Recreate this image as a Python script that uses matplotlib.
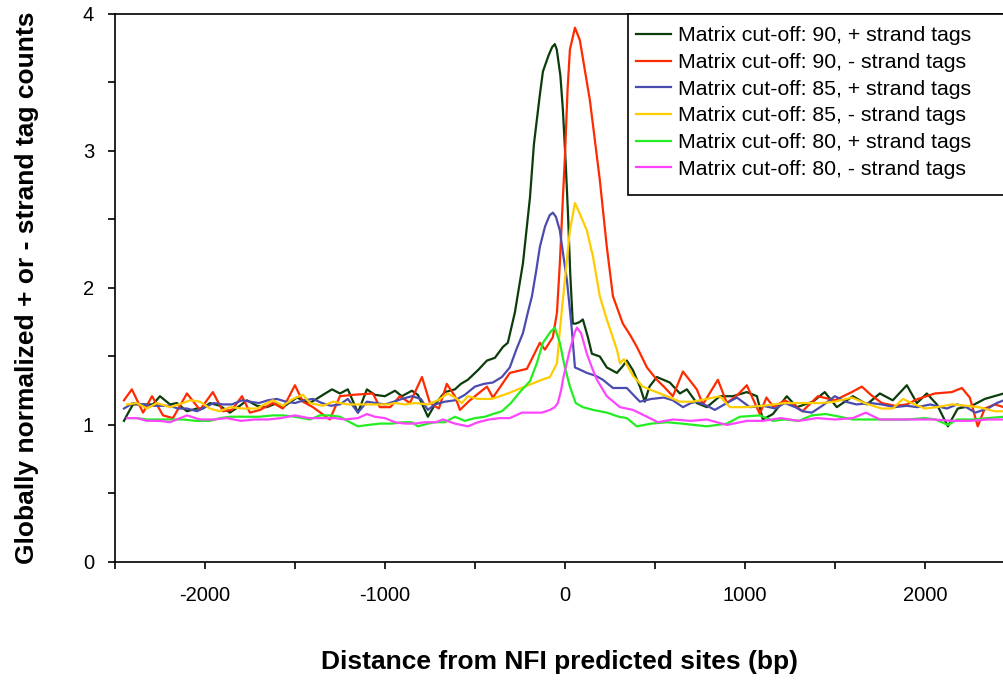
import matplotlib
matplotlib.use("Agg")
import matplotlib.pyplot as plt
from matplotlib.ticker import MultipleLocator
from matplotlib.patches import Rectangle

plt.rcParams["font.family"] = ["Liberation Sans", "DejaVu Sans"]
plt.rcParams["axes.unicode_minus"] = False

# cut-off 90, + strand
x_90p = [-2450, -2430, -2400, -2344, -2289, -2250, -2194, -2156, -2100, -2044, -2011, -1972, -1917, -1861,
         -1806, -1767, -1711, -1656, -1600, -1567, -1489, -1417, -1344, -1294, -1250, -1206, -1150, -1100,
         -1056, -1000, -944, -906, -850, -817, -761, -722, -667, -611, -578, -539, -483, -433, -389, -344,
         -317, -278, -233, -194, -172, -140, -122, -90, -70, -56, -45, -25, -11, 5, 17, 30, 44, 60, 80, 100,
         128, 150, 194, 233, 289, 322, 344, 378, 417, 444, 470, 511, 583, 639, 678, 733, 789, 861, 933,
         1011, 1067, 1100, 1156, 1233, 1289, 1378, 1444, 1511, 1600, 1678, 1750, 1822, 1900, 1956, 2011,
         2067, 2128, 2183, 2261, 2333, 2439]
y_90p = [1.03, 1.08, 1.15, 1.15, 1.15, 1.21, 1.15, 1.16, 1.10, 1.12, 1.12, 1.16, 1.14, 1.09, 1.14, 1.18,
         1.14, 1.13, 1.16, 1.13, 1.20, 1.16, 1.22, 1.26, 1.23, 1.26, 1.09, 1.26, 1.22, 1.21, 1.25, 1.21,
         1.25, 1.22, 1.06, 1.15, 1.24, 1.26, 1.30, 1.33, 1.40, 1.47, 1.49, 1.57, 1.60, 1.82, 2.18, 2.66,
         3.05, 3.40, 3.58, 3.70, 3.76, 3.78, 3.74, 3.55, 3.30, 2.90, 2.55, 2.10, 1.74, 1.74, 1.75, 1.77,
         1.64, 1.52, 1.50, 1.42, 1.38, 1.43, 1.47, 1.40, 1.28, 1.17, 1.28, 1.35, 1.31, 1.23, 1.26, 1.16,
         1.13, 1.21, 1.21, 1.24, 1.21, 1.04, 1.08, 1.21, 1.13, 1.17, 1.24, 1.13, 1.21, 1.15, 1.23, 1.18,
         1.29, 1.16, 1.23, 1.15, 0.99, 1.12, 1.14, 1.19, 1.23]

# cut-off 90, - strand
x_90m = [-2450, -2406, -2344, -2294, -2233, -2178, -2100, -2028, -1956, -1900, -1850, -1794, -1750, -1694,
         -1622, -1567, -1500, -1456, -1400, -1306, -1250, -1178, -1067, -1028, -970, -917, -861, -794, -750,
         -700, -656, -611, -583, -528, -433, -400, -306, -211, -139, -111, -67, -44, -28, -11, 0, 15, 28, 56,
         83, 139, 194, 233, 267, 322, 361, 400, 456, 511, 550, 600, 656, 733, 767, 850, 900, 960, 1011, 1083,
         1120, 1160, 1222, 1278, 1320, 1406, 1500, 1594, 1650, 1700, 1761, 1833, 1900, 1961, 2056, 2150,
         2206, 2250, 2294, 2333, 2389, 2439]
y_90m = [1.18, 1.26, 1.09, 1.21, 1.07, 1.05, 1.23, 1.11, 1.24, 1.10, 1.11, 1.21, 1.09, 1.11, 1.16, 1.12,
         1.29, 1.17, 1.13, 1.04, 1.21, 1.22, 1.23, 1.13, 1.13, 1.21, 1.16, 1.35, 1.16, 1.12, 1.30, 1.21,
         1.11, 1.18, 1.28, 1.20, 1.38, 1.41, 1.60, 1.55, 1.64, 1.82, 2.18, 2.66, 2.95, 3.45, 3.74, 3.90,
         3.81, 3.37, 2.79, 2.30, 1.94, 1.74, 1.66, 1.57, 1.42, 1.33, 1.28, 1.21, 1.39, 1.26, 1.15, 1.33,
         1.16, 1.22, 1.29, 1.08, 1.20, 1.13, 1.18, 1.14, 1.10, 1.21, 1.18, 1.24, 1.28, 1.22, 1.16, 1.14,
         1.15, 1.19, 1.23, 1.24, 1.27, 1.20, 0.99, 1.12, 1.15, 1.13]

# cut-off 85, + strand
x_85p = [-2450, -2400, -2350, -2300, -2250, -2194, -2150, -2100, -2044, -2000, -1950, -1900, -1850, -1794,
         -1750, -1700, -1650, -1600, -1550, -1500, -1450, -1400, -1350, -1300, -1250, -1206, -1150, -1100,
         -1050, -1000, -950, -906, -850, -800, -761, -722, -667, -611, -556, -500, -450, -400, -350, -306,
         -270, -233, -206, -183, -160, -139, -110, -85, -67, -50, -28, -10, 11, 25, 39, 56, 90, 122, 170,
         211, 267, 344, 380, 417, 480, 550, 600, 656, 700, 733, 790, 833, 900, 956, 1028, 1100, 1170, 1222,
         1280, 1322, 1372, 1430, 1500, 1560, 1620, 1700, 1760, 1833, 1900, 1960, 2030, 2122, 2180, 2230,
         2280, 2350, 2400, 2439]
y_85p = [1.12, 1.16, 1.15, 1.14, 1.14, 1.14, 1.12, 1.12, 1.10, 1.13, 1.16, 1.15, 1.15, 1.18, 1.17, 1.16,
         1.18, 1.19, 1.17, 1.16, 1.18, 1.19, 1.16, 1.14, 1.15, 1.19, 1.09, 1.17, 1.16, 1.15, 1.17, 1.19,
         1.21, 1.19, 1.11, 1.15, 1.17, 1.18, 1.22, 1.28, 1.30, 1.31, 1.35, 1.42, 1.55, 1.67, 1.82, 1.94,
         2.12, 2.30, 2.45, 2.53, 2.55, 2.52, 2.42, 2.25, 2.06, 1.88, 1.69, 1.42, 1.40, 1.38, 1.36, 1.33,
         1.27, 1.27, 1.22, 1.17, 1.19, 1.20, 1.18, 1.13, 1.16, 1.17, 1.14, 1.11, 1.16, 1.20, 1.13, 1.14,
         1.12, 1.16, 1.13, 1.10, 1.09, 1.14, 1.21, 1.17, 1.15, 1.16, 1.15, 1.13, 1.14, 1.13, 1.15, 1.12,
         1.15, 1.13, 1.09, 1.12, 1.16, 1.18]

# cut-off 85, - strand
x_85m = [-2433, -2378, -2322, -2267, -2194, -2122, -2083, -2028, -1972, -1917, -1861, -1789, -1711, -1656,
         -1622, -1567, -1511, -1456, -1417, -1344, -1289, -1206, -1128, -1056, -983, -944, -889, -833, -761,
         -706, -650, -611, -572, -539, -483, -406, -317, -222, -128, -83, -44, -28, 0, 28, 56, 80, 122, 156,
         194, 233, 289, 306, 328, 378, 433, 489, 567, 639, 711, 789, 861, 917, 1000, 1100, 1222, 1322, 1422,
         1500, 1594, 1667, 1711, 1761, 1822, 1878, 1944, 2000, 2067, 2150, 2233, 2300, 2389, 2439]
y_85m = [1.15, 1.16, 1.12, 1.16, 1.13, 1.16, 1.18, 1.17, 1.12, 1.10, 1.13, 1.12, 1.12, 1.16, 1.18, 1.14,
         1.19, 1.22, 1.16, 1.14, 1.17, 1.15, 1.15, 1.15, 1.15, 1.16, 1.15, 1.16, 1.15, 1.18, 1.23, 1.20,
         1.16, 1.21, 1.19, 1.19, 1.23, 1.28, 1.33, 1.35, 1.45, 1.69, 2.06, 2.42, 2.62, 2.55, 2.42, 2.23,
         1.94, 1.77, 1.55, 1.45, 1.48, 1.36, 1.28, 1.25, 1.21, 1.17, 1.17, 1.19, 1.21, 1.13, 1.13, 1.14,
         1.16, 1.16, 1.16, 1.17, 1.20, 1.16, 1.14, 1.12, 1.12, 1.19, 1.15, 1.12, 1.13, 1.15, 1.14, 1.13,
         1.10, 1.10]

# cut-off 80, + strand
x_80p = [-2433, -2378, -2322, -2250, -2194, -2122, -2050, -1972, -1917, -1861, -1789, -1700, -1622, -1567,
         -1500, -1417, -1361, -1306, -1250, -1194, -1150, -1094, -1028, -961, -900, -850, -817, -761, -722,
         -667, -611, -556, -500, -444, -400, -350, -300, -250, -194, -156, -122, -80, -56, -28, 0, 28, 60,
         100, 156, 233, 300, 344, 400, 480, 567, 650, 789, 900, 972, 1083, 1156, 1222, 1300, 1372, 1450,
         1528, 1600, 1700, 1800, 1900, 2000, 2060, 2128, 2180, 2260, 2350, 2439]
y_80p = [1.05, 1.05, 1.04, 1.04, 1.04, 1.04, 1.03, 1.03, 1.05, 1.06, 1.06, 1.06, 1.07, 1.07, 1.06, 1.04,
         1.07, 1.07, 1.06, 1.02, 0.99, 1.00, 1.01, 1.01, 1.02, 1.02, 0.99, 1.01, 1.02, 1.02, 1.06, 1.03,
         1.05, 1.06, 1.08, 1.10, 1.16, 1.24, 1.32, 1.45, 1.60, 1.68, 1.71, 1.60, 1.42, 1.28, 1.16, 1.13,
         1.11, 1.09, 1.06, 1.05, 0.99, 1.01, 1.02, 1.01, 0.99, 1.01, 1.06, 1.07, 1.03, 1.04, 1.03, 1.07,
         1.08, 1.06, 1.04, 1.04, 1.04, 1.04, 1.05, 1.04, 1.00, 1.04, 1.04, 1.05, 1.06]

# cut-off 80, - strand
x_80m = [-2433, -2378, -2322, -2250, -2194, -2100, -2028, -1950, -1878, -1800, -1722, -1650, -1578, -1500,
         -1422, -1344, -1278, -1222, -1150, -1100, -1056, -1000, -944, -889, -833, -778, -717, -678, -611,
         -539, -483, -422, -361, -306, -239, -178, -128, -83, -56, -39, -20, -11, 10, 28, 56, 67, 90, 122,
         150, 178, 233, 306, 378, 456, 517, 600, 700, 789, 900, 1011, 1100, 1200, 1300, 1400, 1500, 1600,
         1672, 1750, 1850, 1950, 2050, 2150, 2250, 2350, 2439]
y_80m = [1.05, 1.05, 1.03, 1.03, 1.02, 1.07, 1.04, 1.04, 1.05, 1.03, 1.04, 1.04, 1.05, 1.07, 1.05, 1.05,
         1.05, 1.04, 1.05, 1.08, 1.06, 1.05, 1.02, 1.01, 1.01, 1.02, 1.02, 1.04, 1.01, 0.99, 1.02, 1.04,
         1.05, 1.05, 1.09, 1.09, 1.09, 1.11, 1.13, 1.16, 1.26, 1.33, 1.45, 1.55, 1.68, 1.71, 1.67, 1.52,
         1.42, 1.33, 1.21, 1.13, 1.11, 1.06, 1.02, 1.04, 1.03, 1.04, 1.00, 1.03, 1.03, 1.05, 1.03, 1.05,
         1.04, 1.05, 1.09, 1.04, 1.04, 1.04, 1.04, 1.03, 1.03, 1.04, 1.04]

labels = ["Matrix cut-off: 90, + strand tags", "Matrix cut-off: 90, - strand tags",
          "Matrix cut-off: 85, + strand tags", "Matrix cut-off: 85, - strand tags",
          "Matrix cut-off: 80, + strand tags", "Matrix cut-off: 80, - strand tags"]
colors = ["#0b3d0b", "#ff2a00", "#4b4bb0", "#ffcc00", "#22ee22", "#ff44ff"]
series = [(x_90p, y_90p), (x_90m, y_90m), (x_85p, y_85p), (x_85m, y_85m), (x_80p, y_80p), (x_80m, y_80m)]

fig = plt.figure(figsize=(10.04, 6.82), dpi=100)
ax = fig.add_axes([0.1145, 0.176, 0.8855, 0.8035])

for (xs, ys), c, lab in zip(series, colors, labels):
    ax.plot(xs, ys, color=c, lw=1.6, label=lab)

ax.set_xlim(-2500, 2440)
ax.set_ylim(0, 4)
ax.xaxis.set_major_locator(MultipleLocator(1000))
ax.xaxis.set_minor_locator(MultipleLocator(500))
ax.yaxis.set_major_locator(MultipleLocator(1))
ax.yaxis.set_minor_locator(MultipleLocator(0.5))
ax.tick_params(which="both", direction="out", length=5, width=1.2, labelsize=14.5)
ax.tick_params(axis="x", pad=12)
ax.tick_params(axis="y", pad=10)
ax.spines["right"].set_visible(False)
for s in ["left", "bottom", "top"]:
    ax.spines[s].set_linewidth(1.2)

ax.set_xlabel("Distance from NFI predicted sites (bp)", fontsize=19, fontweight="bold")
ax.xaxis.set_label_coords(0.5, -0.1825)
ax.xaxis.label.set_va("center")
ax.set_ylabel("Globally normalized + or - strand tag counts", fontsize=19, fontweight="bold")
ax.yaxis.set_label_coords(-0.099, 0.5)
ax.yaxis.label.set_va("center")

# legend box runs off the right edge of the picture
ax.add_patch(Rectangle((0.577, 0.6697), 0.5, 0.3303, transform=ax.transAxes, fill=True,
                       facecolor="white", edgecolor="black", lw=1.2, clip_on=False, zorder=4))
leg = ax.legend(loc="upper left", bbox_to_anchor=(0.581, 0.985), fontsize=15.3, frameon=False,
                borderaxespad=0, handlelength=1.65, handletextpad=0.35,
                labelspacing=0.36, borderpad=0.2)
leg.set_zorder(5)

plt.savefig("out.png", dpi=100)
